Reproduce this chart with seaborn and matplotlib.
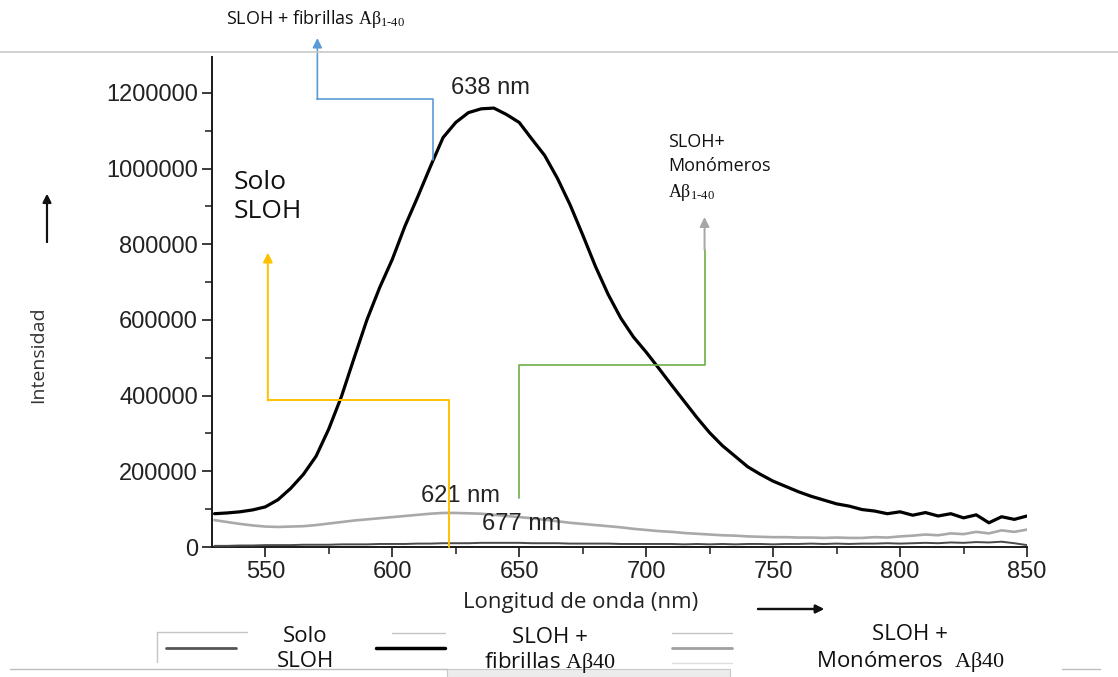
import numpy as np
import pandas as pd
import matplotlib.pyplot as plt
import seaborn as sns
from matplotlib.lines import Line2D
from matplotlib.ticker import MultipleLocator

# Emission spectra (intensity in thousands)
wavelength = list(range(530, 851, 5))

solo_sloh = [3, 3, 4, 4, 5, 5, 5, 6, 6, 6, 7, 7, 7, 8, 8,
             8, 9, 9, 10, 10, 10, 11, 11, 11, 11, 10, 10, 10, 9, 9, 9, 9, 8, 8, 8,
             8, 8, 7, 8, 7, 8, 7, 8, 8, 7, 8, 8, 9, 8, 9, 8, 9, 9, 10, 9,
             10, 11, 10, 12, 11, 13, 12, 14, 10, 5]

fibrillas = [88, 90, 93, 98, 106, 125, 155, 192, 240, 312, 398, 500, 600, 685, 760,
             848, 925, 1005, 1082, 1122, 1148, 1158, 1160, 1143, 1122, 1078, 1035, 975, 905, 825,
             742, 668, 605, 555, 515, 472, 428, 385, 342, 302, 268, 240, 212, 192, 174,
             160, 146, 134, 124, 114, 108, 99, 95, 88, 93, 84, 91, 82, 88, 77,
             85, 64, 80, 73, 82]

monomeros = [71, 66, 61, 57, 54, 53, 54, 55, 58, 62, 66, 70, 73, 76, 79,
             82, 85, 88, 90, 90, 89, 88, 85, 82, 79, 76, 72, 68, 64, 61,
             58, 55, 52, 48, 45, 42, 40, 37, 35, 33, 31, 30, 28, 27, 26,
             26, 25, 25, 24, 25, 24, 24, 26, 25, 28, 30, 33, 31, 36, 34,
             40, 36, 44, 40, 46]

x_ticks = [550, 600, 650, 700, 750, 800, 850]
y_ticks = [0, 200000, 400000, 600000, 800000, 1000000, 1200000]

W, H = 1118, 677
BLUE = '#5b9bd5'
YELLOW = '#ffc000'
GREEN = '#70ad47'
ARROW_GRAY = '#a6a6a6'
SANS = 'Open Sans'
ARIAL = 'Liberation Sans'
AB_SUB = '$\\mathrm{A\\beta_{1\u201040}}$'


def fpx(x, y):
    """Figure pixel position (from top-left) to figure fraction."""
    return (x / W, 1 - y / H)


df = pd.DataFrame({
    'wavelength': wavelength,
    'solo': np.array(solo_sloh) * 1000,
    'fibrillas': np.array(fibrillas) * 1000,
    'monomeros': np.array(monomeros) * 1000,
})

sns.set_theme(style='ticks')
plt.rcParams['font.family'] = [ARIAL, 'DejaVu Sans']
plt.rcParams['mathtext.fontset'] = 'custom'
plt.rcParams['mathtext.rm'] = 'Liberation Serif'
plt.rcParams['mathtext.it'] = 'Liberation Serif:italic'

fig = plt.figure(figsize=(W / 100, H / 100), dpi=100)
fig.patch.set_facecolor('white')
ax = fig.add_axes([212 / W, 1 - 547 / H, (1027 - 212) / W, (547 - 57) / H])
ax.set_facecolor('white')

sns.lineplot(data=df, x='wavelength', y='monomeros', color='#a9a9a9', lw=1.9, ax=ax, zorder=2)
sns.lineplot(data=df, x='wavelength', y='solo', color='#4a4a4a', lw=1.4, ax=ax, zorder=3)
sns.lineplot(data=df, x='wavelength', y='fibrillas', color='black', lw=2.3, ax=ax, zorder=4)

ax.set_xlim(529, 850)
ax.set_ylim(0, 1295000)
ax.set_xticks(x_ticks)
ax.set_xticklabels([str(v) for v in x_ticks])
ax.set_yticks(y_ticks)
ax.set_yticklabels([str(v) for v in y_ticks])
ax.xaxis.set_minor_locator(MultipleLocator(25))
ax.yaxis.set_minor_locator(MultipleLocator(100000))
ax.tick_params(axis='both', which='major', labelsize=17, length=7, width=1.2,
               colors='#1a1a1a', labelcolor='#222222', pad=3)
ax.tick_params(axis='both', which='minor', length=5, width=1.1, colors='#1a1a1a')
for lab in ax.get_xticklabels() + ax.get_yticklabels():
    lab.set_family(ARIAL)
sns.despine(ax=ax)
for side in ['left', 'bottom']:
    ax.spines[side].set_linewidth(1.4)
    ax.spines[side].set_color('#1a1a1a')

ax.set_ylabel('Intensidad', fontsize=14, family=SANS, color='#333333')
ax.yaxis.set_label_coords(-0.2025, 0.392)
ax.set_xlabel('Longitud de onda (nm)', fontsize=16, family=SANS, color='#222222')
ax.xaxis.set_label_coords(0.4528, -0.092)

# peak labels
ax.text(638.6, 1213000, '638 nm', fontsize=17, family=ARIAL, ha='center', va='center', color='#222222', zorder=6)
ax.text(626.8, 134000, '621 nm', fontsize=17, family=ARIAL, ha='center', va='center', color='#222222', zorder=6)
ax.text(650.8, 60000, '677 nm', fontsize=17, family=ARIAL, ha='center', va='center', color='#222222', zorder=6)

# connector for fibrillas (blue)
ax.plot([616, 616, 570.5], [1023000, 1184000, 1184000], color=BLUE, lw=1.2, clip_on=False, zorder=5)
ax.annotate('', xy=(570.5, 1345000), xytext=(570.5, 1183000),
            arrowprops=dict(arrowstyle='-|>', color=BLUE, lw=1.2, mutation_scale=14, shrinkA=0, shrinkB=0),
            annotation_clip=False, zorder=5)

# connector for solo SLOH (yellow)
ax.plot([622.4, 622.4, 551], [0, 388000, 388000], color=YELLOW, lw=1.4, clip_on=False, zorder=7)
ax.annotate('', xy=(551, 778000), xytext=(551, 387000),
            arrowprops=dict(arrowstyle='-|>', color=YELLOW, lw=1.4, mutation_scale=14, shrinkA=0, shrinkB=0),
            annotation_clip=False, zorder=7)

# connector for monomeros (green, grey tip)
ax.plot([650, 650, 723, 723], [129500, 481000, 481000, 785000], color=GREEN, lw=1.2, clip_on=False, zorder=5)
ax.annotate('', xy=(723, 872000), xytext=(723, 785000),
            arrowprops=dict(arrowstyle='-|>', color=ARROW_GRAY, lw=1.4, mutation_scale=14, shrinkA=0, shrinkB=0),
            annotation_clip=False, zorder=5)

ax.text(537.4, 925000, 'Solo\nSLOH', fontsize=19, family=SANS, ha='left', va='center',
        linespacing=1.25, color='#111111')
ax.text(708.7, 1002000, 'SLOH+\nMonómeros\n' + AB_SUB, fontsize=13, family=SANS,
        ha='left', va='center', linespacing=1.45, color='#111111')

# figure level decorations
fig.text(*fpx(316, 19), 'SLOH + fibrillas ' + AB_SUB, fontsize=13, family=SANS,
         ha='center', va='center', color='#111111')
fig.add_artist(Line2D([0, 1], [fpx(0, 52)[1]] * 2, color='#c8c8c8', lw=1.2))

fig.add_artist(plt.annotate('', xy=fpx(47, 194), xytext=fpx(47, 242), xycoords='figure fraction',
                            arrowprops=dict(arrowstyle='-|>', color='#111111', lw=1.5, mutation_scale=12,
                                            shrinkA=0, shrinkB=0)))
fig.add_artist(plt.annotate('', xy=fpx(824, 609), xytext=fpx(758, 609), xycoords='figure fraction',
                            arrowprops=dict(arrowstyle='-|>', color='#111111', lw=1.6, mutation_scale=12,
                                            shrinkA=0, shrinkB=0)))


# legend strip at the bottom
def fig_line(xs, ys, **kw):
    pts = [fpx(x, y) for x, y in zip(xs, ys)]
    fig.add_artist(Line2D([p[0] for p in pts], [p[1] for p in pts], **kw))


fig_line([157, 157, 247], [662, 632, 632], color='#c4c4c4', lw=1)
fig_line([166, 236], [648, 648], color='#555555', lw=2)
fig_line([392, 445], [633, 633], color='#c4c4c4', lw=1)
fig_line([376, 445], [648, 648], color='black', lw=2.5)
fig_line([672, 732], [633, 633], color='#c4c4c4', lw=1)
fig_line([672, 732], [648, 648], color='#a0a0a0', lw=2)
fig_line([672, 732], [663, 663], color='#dddddd', lw=1)
fig_line([10, 447], [669, 669], color='#bdbdbd', lw=1)
fig_line([1062, 1100], [669, 669], color='#bdbdbd', lw=1)
fig.add_artist(plt.Rectangle(fpx(447, 677), (730 - 447) / W, 8 / H, transform=fig.transFigure,
                             facecolor='#ececec', edgecolor='#c8c8c8', lw=0.8))

fig.text(*fpx(305, 649), 'Solo\nSLOH', fontsize=16, family=SANS, ha='center', va='center',
         linespacing=1.2, color='#111111')
fig.text(*fpx(550, 651), 'SLOH +\nfibrillas $\\mathrm{A\\beta40}$', fontsize=16, family=SANS,
         ha='center', va='center', linespacing=1.15, color='#111111', zorder=5)
fig.text(*fpx(910, 649), 'SLOH +\nMonómeros  $\\mathrm{A\\beta40}$', fontsize=16, family=SANS,
         ha='center', va='center', linespacing=1.2, color='#111111')

fig.savefig('out.png', dpi=100, facecolor='white')
